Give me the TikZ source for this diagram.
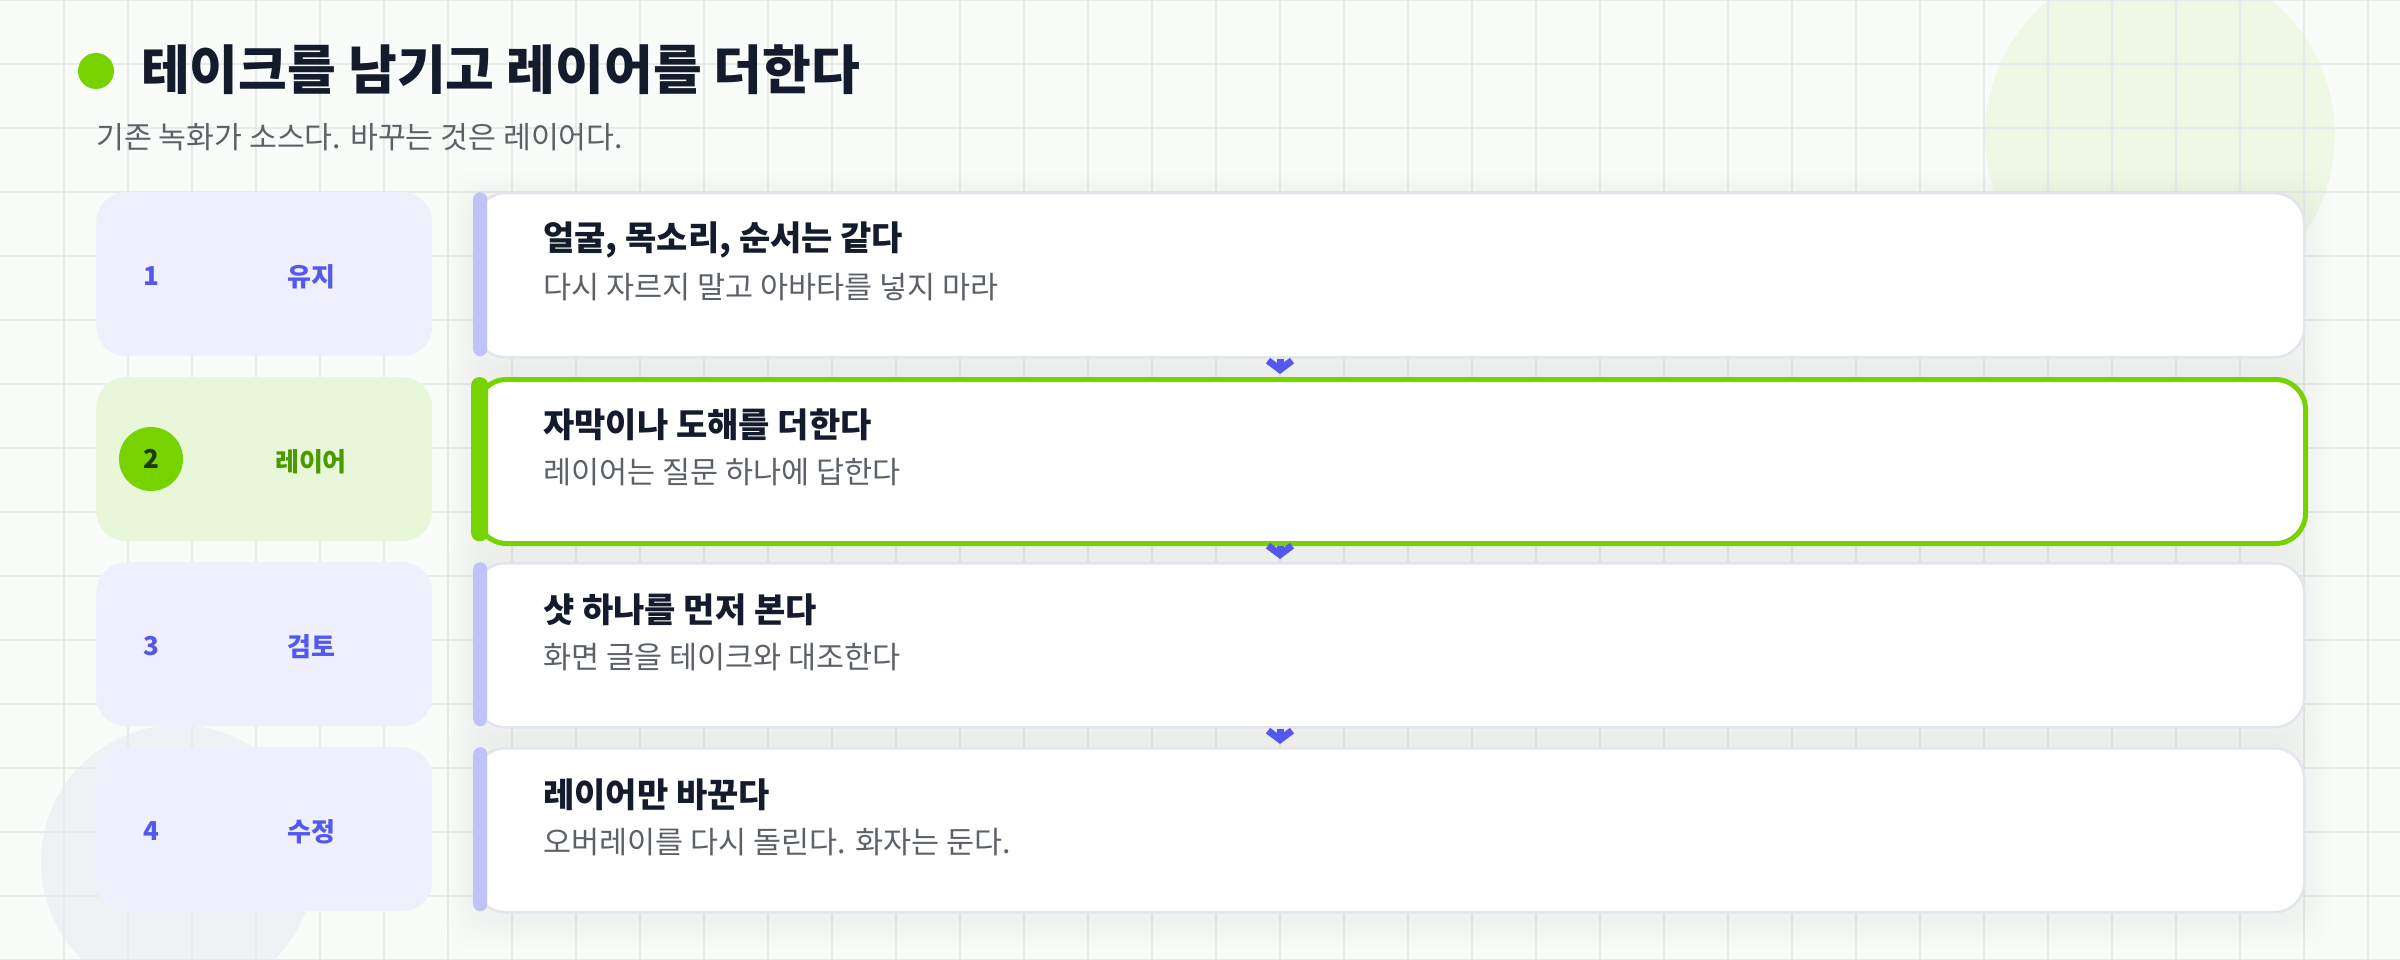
\documentclass[tikz,border=0pt]{standalone}
\usepackage{fontspec}
\setmainfont{Noto Sans CJK KR}
\usetikzlibrary{arrows.meta}
\definecolor{bgc}{HTML}{FAFCFA}
\definecolor{gridc}{HTML}{E8ECE8}
\definecolor{lime}{HTML}{76D300}
\definecolor{indigo}{HTML}{5558EE}
\definecolor{tabfill}{HTML}{EEF0FE}
\definecolor{tabgreen}{HTML}{E8F7D9}
\definecolor{barc}{HTML}{C0C3F8}
\definecolor{ink}{HTML}{141B2D}
\definecolor{graytxt}{HTML}{5C6167}
\definecolor{cardline}{HTML}{E3E5EE}
\definecolor{darkgreen}{HTML}{4A9A00}
\definecolor{circgreen}{HTML}{EEF8E4}
\definecolor{circgray}{HTML}{F0F1F5}
\definecolor{numdark}{HTML}{1F3A0A}
\begin{document}
\begin{tikzpicture}[x=1pt,y=-1pt,
  gridline/.style={draw=gridc,line width=1.2pt},
  card/.style={draw=cardline,line width=2.5pt,fill=white,rounded corners=30pt,
    minimum width=1829pt,minimum height=164pt,anchor=north west,inner sep=0pt},
  activecard/.style={card,draw=lime,line width=5pt},
  accent/.style={fill=barc,rounded corners=7pt,minimum width=14pt,minimum height=164pt,anchor=north west,inner sep=0pt},
  activeaccent/.style={accent,fill=lime,minimum width=17pt,rounded corners=8pt},
  tabbox/.style={fill=tabfill,rounded corners=30pt,minimum width=336pt,minimum height=164pt,anchor=north west,inner sep=0pt},
  activetab/.style={tabbox,fill=tabgreen},
  tabnum/.style={text=indigo,font=\bfseries\fontsize{26}{30}\selectfont,inner sep=0pt},
  tablabel/.style={text=indigo,font=\bfseries\fontsize{26}{30}\selectfont,inner sep=0pt},
  ctitle/.style={anchor=west,inner sep=0pt,text=ink,font=\bfseries\fontsize{34}{40}\selectfont},
  csub/.style={anchor=west,inner sep=0pt,text=graytxt,font=\fontsize{30.5}{36}\selectfont},
  shadowlayer/.style={fill=black,opacity=0.0045,rounded corners=32pt},
  flow/.style={draw=indigo,line width=7pt,-{Straight Barb[length=9pt,width=24pt,line width=7pt,sharp]},shorten >=3pt}
]
\useasboundingbox (0,0) rectangle (2400,960);
\fill[bgc] (0,0) rectangle (2400,960);
% background circles
\fill[circgreen] (2160,135) circle (175pt);
\fill[circgray] (178,862) circle (137pt);
% grid
\foreach \i in {64,128,...,2368} \draw[gridline] (\i,0) -- (\i,960);
\foreach \j in {0,64,...,960} \draw[gridline] (0,\j) -- (2400,\j);

% header
\fill[lime] (96,71) circle (18pt);
\node[anchor=west,inner sep=0pt,text=ink,font=\bfseries\fontsize{53}{60}\selectfont] (title) at (141,70) {테이크를 남기고 레이어를 더한다};
\node[anchor=west,inner sep=0pt,text=graytxt,font=\fontsize{30.3}{36}\selectfont] (subtitle) at (96,137) {기존 녹화가 소스다. 바꾸는 것은 레이어다.};

% tabs
\node[tabbox] (t1) at (96,192) {};
\node[activetab] (t2) at (96,377) {};
\node[tabbox] (t3) at (96,562) {};
\node[tabbox] (t4) at (96,747) {};
\node[tabnum] (n1) at (151,276) {1};
\node[circle,fill=lime,minimum size=64pt,inner sep=0pt,text=numdark,font=\bfseries\fontsize{26}{30}\selectfont] (n2) at (151,459) {2};
\node[tabnum] (n3) at (151,646) {3};
\node[tabnum] (n4) at (151,831) {4};
\node[tablabel] (l1) at (311,277) {유지};
\node[tablabel,text=darkgreen] (l2) at (311,462) {레이어};
\node[tablabel] (l3) at (311,647) {검토};
\node[tablabel] (l4) at (311,832) {수정};

% soft shadows of the cards
\foreach \T in {192,377,562,747}{
  \foreach \k in {1,...,10}{
    \pgfmathsetmacro\e{\k*3}
    \fill[shadowlayer] (474-\e,\T+8-\e) rectangle (2303+\e,\T+172+\e);
  }
}

% cards
\node[card] (c1) at (474,192) {};
\node[activecard] (c2) at (474,377) {};
\node[card] (c3) at (474,562) {};
\node[card] (c4) at (474,747) {};
\node[accent] (b1) at (473,192) {};
\node[activeaccent] (b2) at (471,377) {};
\node[accent] (b3) at (473,562) {};
\node[accent] (b4) at (473,747) {};

\node[ctitle] (c1t) at (543,240) {얼굴, 목소리, 순서는 같다};
\node[csub] (c1s) at (543,287) {다시 자르지 말고 아바타를 넣지 마라};
\node[ctitle] (c2t) at (543,425) {자막이나 도해를 더한다};
\node[csub] (c2s) at (543,472) {레이어는 질문 하나에 답한다};
\node[ctitle] (c3t) at (543,610) {샷 하나를 먼저 본다};
\node[csub] (c3s) at (543,657) {화면 글을 테이크와 대조한다};
\node[ctitle] (c4t) at (543,795) {레이어만 바꾼다};
\node[csub] (c4s) at (543,842) {오버레이를 다시 돌린다. 화자는 둔다.};

% connectors
\draw[flow] ([xshift=806pt]c1.south west) -- ([xshift=806pt]c2.north west);
\draw[flow] ([xshift=806pt]c2.south west) -- ([xshift=806pt]c3.north west);
\draw[flow] ([xshift=806pt]c3.south west) -- ([xshift=806pt]c4.north west);
\end{tikzpicture}
\end{document}
